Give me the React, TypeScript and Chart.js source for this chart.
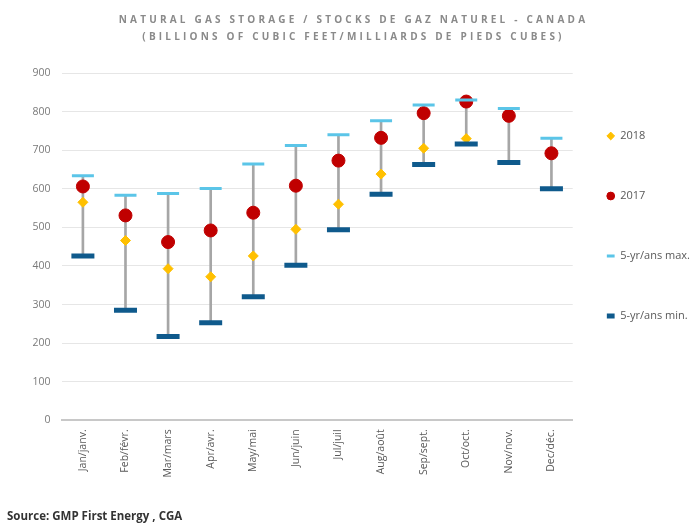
import React, { useEffect, useRef } from 'react';
import { Chart, registerables } from 'chart.js';

Chart.register(...registerables);

const FONT = "'Open Sans', 'Liberation Sans', sans-serif";

const categories = ['Jan/janv.', 'Feb/févr.', 'Mar/mars', 'Apr/avr.', 'May/mai', 'Jun/juin', 'Jul/juil', 'Aug/août', 'Sep/sept.', 'Oct/oct.', 'Nov/nov.', 'Dec/déc.'];
const values2018: (number | null)[] = [565, 466, 393, 372, 426, 495, 560, 638, 705, 730, null, null];
const values2017 = [606, 531, 462, 492, 538, 608, 673, 732, 796, 826, 789, 692];
const max5yr = [634, 583, 588, 601, 664, 712, 740, 776, 817, 830, 808, 731];
const min5yr = [426, 285, 217, 253, 320, 402, 494, 586, 663, 716, 668, 600];
const yTicks = [0, 100, 200, 300, 400, 500, 600, 700, 800, 900];

const titleLines = [
  'NATURAL GAS STORAGE / STOCKS DE GAZ NATUREL - CANADA',
  '(BILLIONS OF CUBIC FEET/MILLIARDS DE PIEDS CUBES)',
];
const sourceText = 'Source: GMP First Energy , CGA';

const titleSpacing = {
  id: 'titleSpacing',
  beforeDraw(chart: any) {
    const tb = chart.titleBlock;
    if (tb && !tb.__patched) {
      const orig = tb.draw.bind(tb);
      tb.draw = (...args: any[]) => {
        const ctx = chart.ctx as any;
        const prev = ctx.letterSpacing;
        ctx.letterSpacing = '3.2px';
        orig(...args);
        ctx.letterSpacing = prev || '0px';
      };
      tb.__patched = true;
    }
  },
};

export default function App() {
  const ref = useRef<HTMLCanvasElement>(null);

  useEffect(() => {
    if (!ref.current) return;
    const chart = new Chart(ref.current, {
      type: 'bar',
      data: {
        labels: categories,
        datasets: [
          {
            type: 'line',
            label: '2018',
            data: values2018,
            showLine: false,
            pointStyle: 'rectRot',
            pointRadius: 5,
            pointHoverRadius: 5,
            pointBackgroundColor: '#FFC000',
            pointBorderColor: '#FFC000',
            pointBorderWidth: 1,
            backgroundColor: '#FFC000',
            borderColor: '#FFC000',
            order: 3,
          },
          {
            type: 'line',
            label: '2017',
            data: values2017,
            showLine: false,
            pointStyle: 'circle',
            pointRadius: 6.5,
            pointHoverRadius: 6.5,
            pointBackgroundColor: '#C00000',
            pointBorderColor: '#C00000',
            pointBorderWidth: 1,
            backgroundColor: '#C00000',
            borderColor: '#C00000',
            order: 2,
          },
          {
            type: 'line',
            label: '5-yr/ans max.',
            data: max5yr,
            showLine: false,
            pointStyle: 'line',
            pointRadius: 11,
            pointHoverRadius: 11,
            pointBackgroundColor: '#5BC5E8',
            pointBorderColor: '#5BC5E8',
            pointBorderWidth: 3,
            backgroundColor: '#5BC5E8',
            borderColor: '#5BC5E8',
            order: 0,
          },
          {
            type: 'line',
            label: '5-yr/ans min.',
            data: min5yr,
            showLine: false,
            pointStyle: 'line',
            pointRadius: 11.5,
            pointHoverRadius: 11.5,
            pointBackgroundColor: '#0F5A8C',
            pointBorderColor: '#0F5A8C',
            pointBorderWidth: 5,
            backgroundColor: '#0F5A8C',
            borderColor: '#0F5A8C',
            order: 1,
          },
          {
            type: 'bar',
            label: 'range',
            data: categories.map((_, i) => [min5yr[i], max5yr[i]]),
            backgroundColor: '#A6A6A6',
            borderWidth: 0,
            barThickness: 2,
            borderSkipped: false,
            order: 4,
          },
        ] as any,
      },
      options: {
        responsive: false,
        animation: false,
        layout: { padding: { left: 7, right: -6, top: 0, bottom: 0 } },
        plugins: {
          title: {
            display: true,
            text: titleLines,
            color: '#8A8A8A',
            font: { family: FONT, size: 10, weight: 'bold', lineHeight: 1.7 },
            padding: { top: 12, bottom: 27 },
          },
          subtitle: {
            display: true,
            position: 'bottom',
            align: 'start',
            text: sourceText,
            color: '#333333',
            font: { family: FONT, size: 11.5, weight: 'bold', lineHeight: 1.1 },
            padding: 0,
          },
          legend: {
            position: 'right',
            align: 'start',
            title: {
              display: true,
              text: '',
              font: { family: FONT, size: 10, lineHeight: 1.2 },
              padding: { top: 84.5, bottom: 0 },
            },
            labels: {
              usePointStyle: true,
              boxWidth: 8,
              boxHeight: 5.5,
              padding: 34,
              color: '#595959',
              font: { family: FONT, size: 11, lineHeight: 26 / 11 },
              sort: (a: any, b: any) => a.datasetIndex - b.datasetIndex,
              generateLabels: (c: any) =>
                Chart.defaults.plugins.legend.labels
                  .generateLabels(c)
                  .filter((l: any) => l.datasetIndex < 4)
                  .map((l: any) => ({ ...l, text: [l.text] })),
            },
          },
          tooltip: { enabled: false },
        },
        scales: {
          x: {
            offset: true,
            grid: { display: false, drawTicks: false },
            border: { display: true, color: '#C8C8C8', width: 2 },
            ticks: {
              autoSkip: false,
              minRotation: 90,
              maxRotation: 90,
              padding: 9,
              color: '#595959',
              font: { family: FONT, size: 10.5 },
            },
            afterFit: (s: any) => {
              s.height = 90;
            },
          },
          y: {
            min: 0,
            max: 900,
            grid: { color: '#E6E6E6', drawTicks: false },
            border: { display: false },
            ticks: {
              padding: 11,
              color: '#7A7A7A',
              font: { family: FONT, size: 10.5 },
            },
            afterBuildTicks: (s: any) => {
              s.ticks = yTicks.map((v) => ({ value: v }));
            },
            afterFit: (s: any) => {
              s.width = 54.6;
            },
          },
        },
      } as any,
      plugins: [titleSpacing],
    });
    return () => chart.destroy();
  }, []);

  return (
    <div style={{ position: 'absolute', left: 0, top: 0, width: 694, height: 523, background: '#fff' }}>
      <canvas ref={ref} width={694} height={523} />
    </div>
  );
}
